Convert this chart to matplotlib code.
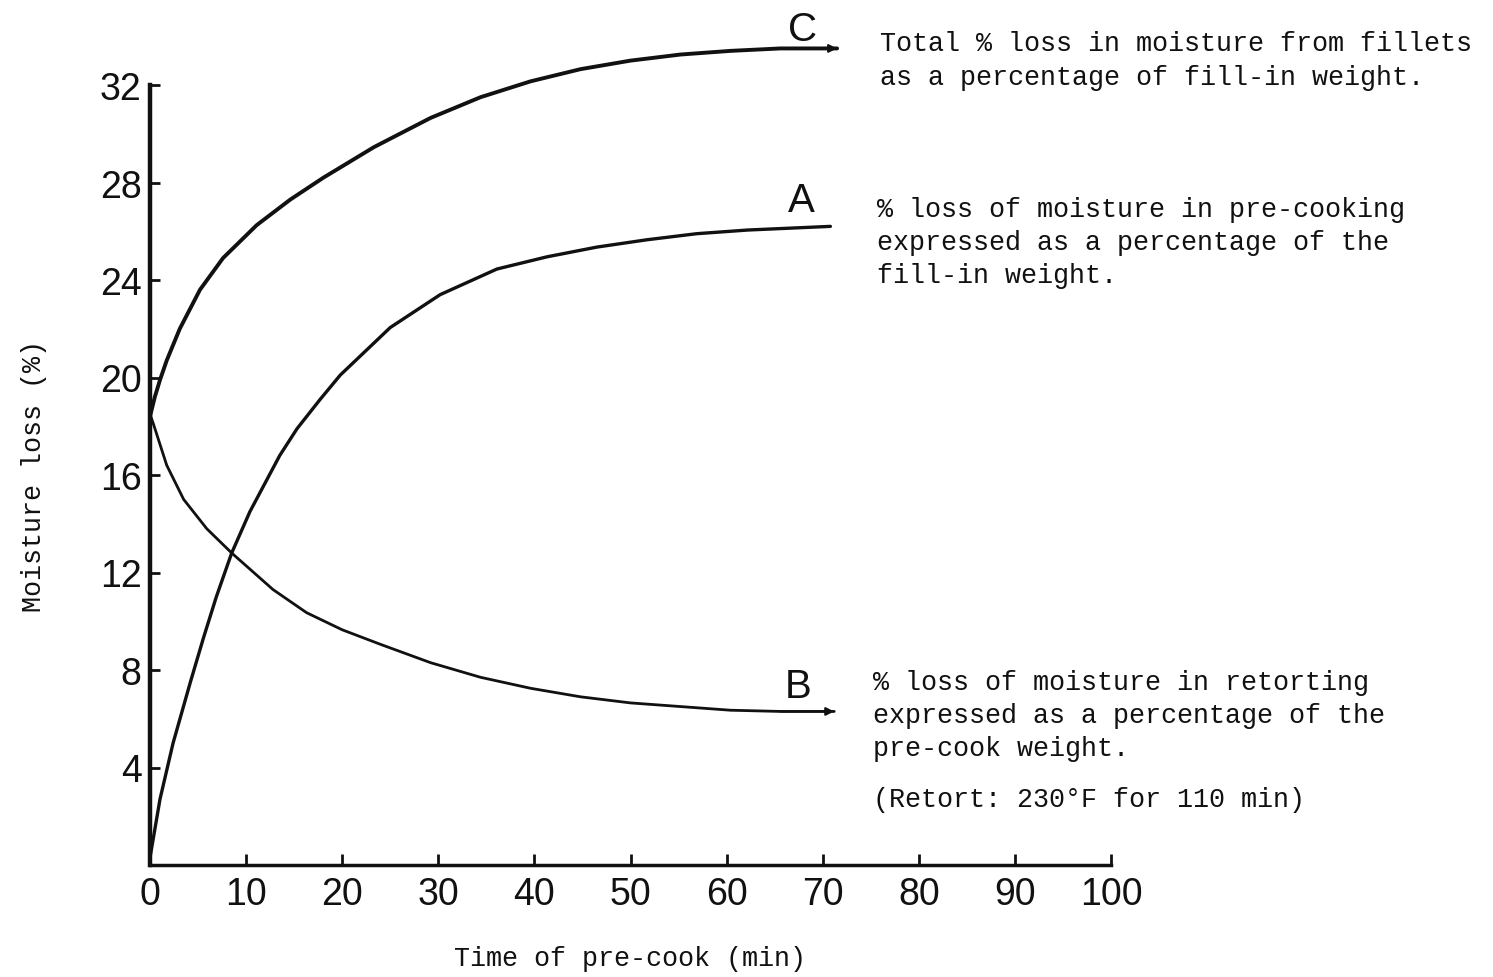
import matplotlib.pyplot as plt

# curve C: total % loss
c_time = [0, 0.5, 1.04, 1.74, 3.1, 5.2, 7.6, 11.1, 14.6, 18.05, 23.3, 29.2, 34.4,
          39.6, 44.8, 50, 55.2, 60.4, 65.6, 71.5]
c_loss = [18.4, 19.2, 19.9, 20.7, 22.0, 23.6, 24.9, 26.25, 27.3, 28.2, 29.45, 30.65, 31.5,
          32.15, 32.65, 33.0, 33.25, 33.4, 33.5, 33.5]

# curve A: % loss in pre-cooking
a_time = [0, 1.04, 2.4, 4.2, 5.55, 6.9, 8.5, 10.4, 13.5, 15.3, 17.7, 19.8, 25, 30.2,
          36.1, 41.3, 46.5, 51.7, 56.9, 62.2, 70.8]
a_loss = [0.3, 2.7, 5.0, 7.5, 9.3, 11.0, 12.8, 14.5, 16.8, 17.9, 19.1, 20.1, 22.05, 23.4,
          24.45, 24.95, 25.35, 25.65, 25.9, 26.05, 26.2]

# curve B: % loss in retorting
b_time = [0, 0.35, 1.74, 3.5, 5.9, 8.5, 12.8, 16.3, 20, 24, 29.2, 34.4, 39.6, 44.8, 50,
          55.2, 60.4, 65.6, 71.2]
b_loss = [18.5, 18.1, 16.4, 15.0, 13.8, 12.8, 11.3, 10.35, 9.65, 9.05, 8.3, 7.7, 7.25, 6.9,
          6.65, 6.5, 6.35, 6.3, 6.3]

x_ticks = [0, 10, 20, 30, 40, 50, 60, 70, 80, 90, 100]
y_ticks = [4, 8, 12, 16, 20, 24, 28, 32]

ink = "#111111"
mono = "Liberation Mono"
sans = "Liberation Sans"

fig = plt.figure(figsize=(14.93, 9.78), dpi=100)
ax = fig.add_axes([150 / 1493, 1 - 866 / 978, 961 / 1493, 780 / 978])

ax.plot(c_time, c_loss, color=ink, linewidth=2.8, clip_on=False,
        solid_capstyle="round", solid_joinstyle="round")
ax.plot(a_time, a_loss, color=ink, linewidth=2.4, clip_on=False,
        solid_capstyle="round", solid_joinstyle="round")
ax.plot(b_time, b_loss, color=ink, linewidth=2.0, clip_on=False,
        solid_capstyle="round", solid_joinstyle="round")

# little arrow heads at the ends of C and B
for t, v in [(c_time, c_loss), (b_time, b_loss)]:
    ax.annotate("", xy=(t[-1], v[-1]), xytext=(t[-2], v[-2]), annotation_clip=False,
                arrowprops=dict(arrowstyle="-|>", color=ink, lw=1.5, mutation_scale=12,
                                shrinkA=0, shrinkB=0))

ax.set_xlim(0, 100)
ax.set_ylim(0, 32)
ax.set_xticks(x_ticks)
ax.set_yticks(y_ticks)

for side in ["top", "right"]:
    ax.spines[side].set_visible(False)
ax.spines["left"].set_linewidth(3.2)
ax.spines["bottom"].set_linewidth(2.5)
for s in ax.spines.values():
    s.set_color(ink)

ax.tick_params(axis="y", direction="in", length=7, width=2, pad=6, colors=ink,
               labelsize=27)
ax.tick_params(axis="x", direction="in", length=8, width=2, pad=8, colors=ink,
               labelsize=27)
for lab in ax.get_xticklabels() + ax.get_yticklabels():
    lab.set_fontfamily(sans)

ax.set_xlabel("Time of pre-cook (min)", fontfamily=mono, fontsize=19.3, color=ink,
              labelpad=24)
ax.set_ylabel("Moisture loss (%)", fontfamily=mono, fontsize=19.3, color=ink,
              labelpad=38)

# curve letters
for letter, px, py in [("C", 803, 30), ("A", 801, 201), ("B", 798, 687)]:
    fig.text(px / 1493, 1 - py / 978, letter, fontfamily=sans, fontsize=29, color=ink,
             ha="center", va="center")

notes = [
    ("Total % loss in moisture from fillets\nas a percentage of fill-in weight.", 880, 61),
    ("% loss of moisture in pre-cooking\nexpressed as a percentage of the\nfill-in weight.", 877, 243),
    ("% loss of moisture in retorting\nexpressed as a percentage of the\npre-cook weight.", 873, 716),
    ("(Retort: 230°F for 110 min)", 873, 800),
]
for txt, px, py in notes:
    fig.text(px / 1493, 1 - py / 978, txt, fontfamily=mono, fontsize=19.3, color=ink,
             ha="left", va="center", linespacing=1.36)

fig.savefig("out.png", dpi=100, facecolor="white")
